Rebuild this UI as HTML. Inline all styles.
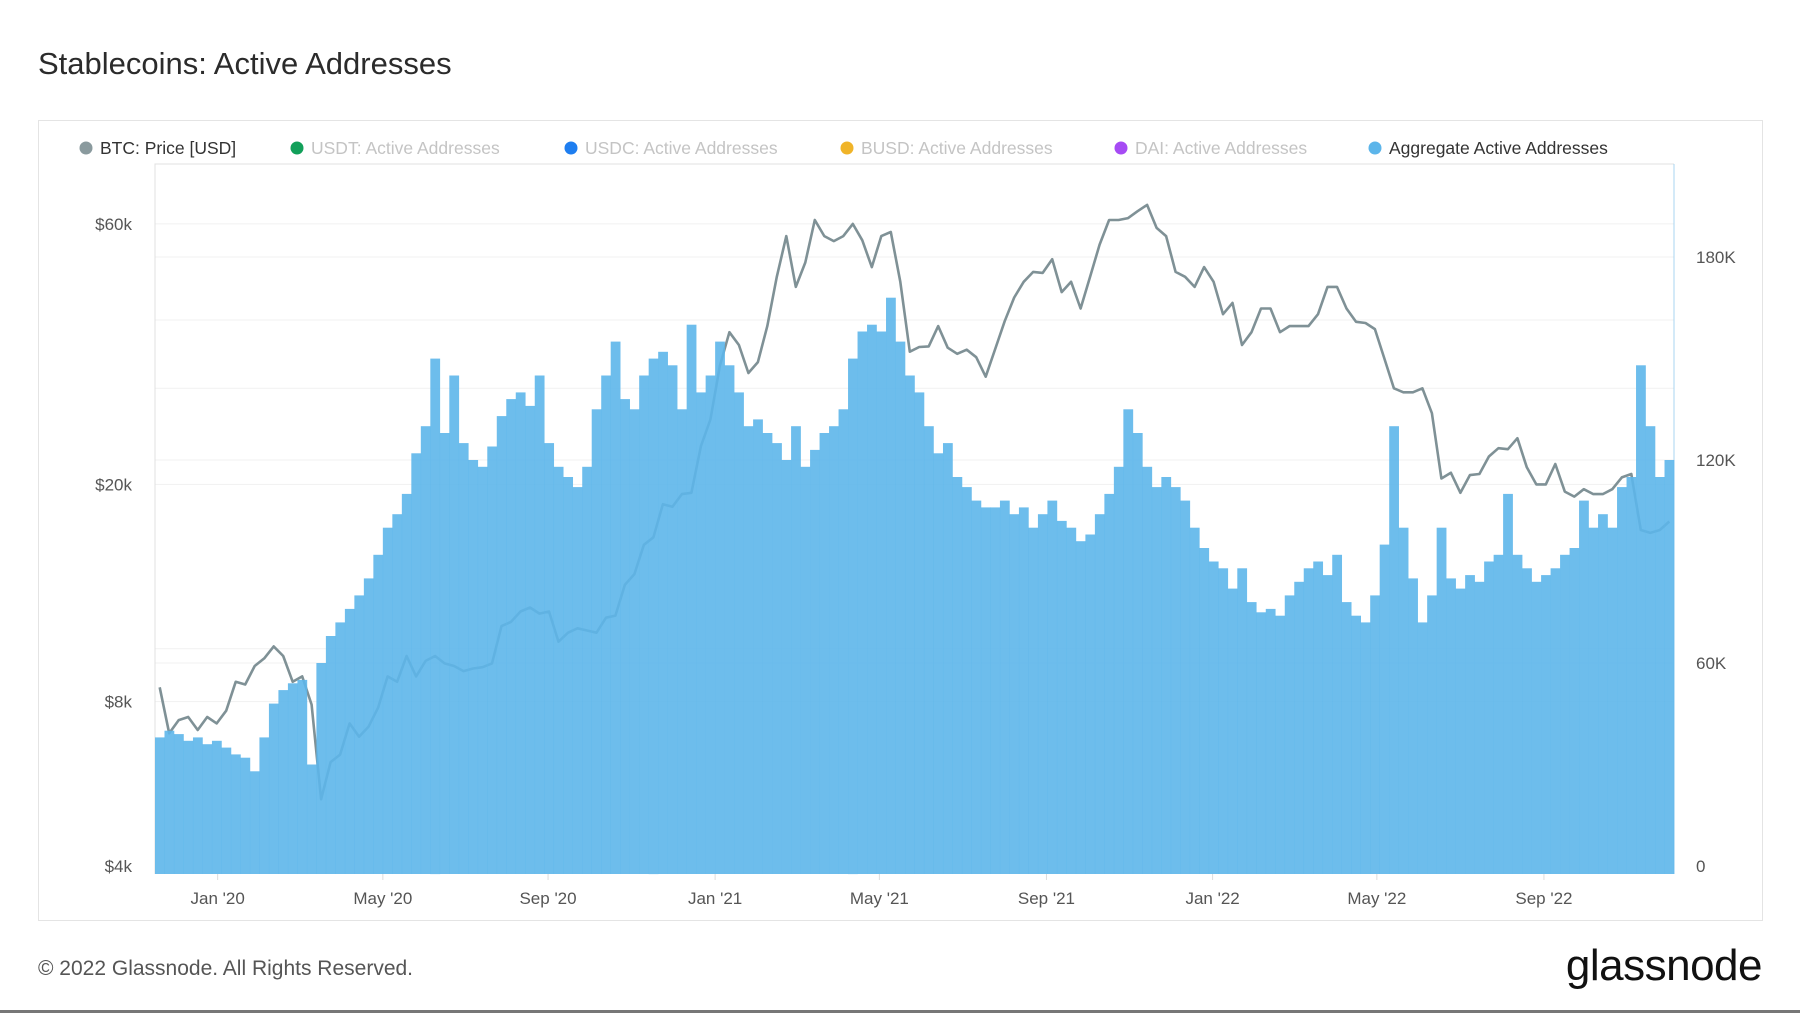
<!DOCTYPE html>
<html><head><meta charset="utf-8"><style>
body{margin:0;background:#fff;width:1800px;height:1013px;overflow:hidden;font-family:"Liberation Sans",sans-serif}
</style></head><body>
<svg id="chart" width="1800" height="1013" xmlns="http://www.w3.org/2000/svg">
<text x="38" y="74" font-size="31" fill="#2b2b2b">Stablecoins: Active Addresses</text>
<rect x="38.5" y="120.5" width="1724" height="800" fill="#fff" stroke="#e4e4e4"/>
<g id="legend" font-size="17.5"></g>
<g id="grid"></g>
<g id="line"></g>
<g id="bars"></g>
<g id="axes" font-size="17" fill="#555"></g>
<text x="38" y="975" font-size="21" fill="#555">© 2022 Glassnode. All Rights Reserved.</text>
<text x="1762" y="980" font-size="44" fill="#111" text-anchor="end" letter-spacing="-0.5">glassnode</text>
<rect x="0" y="1010" width="1800" height="3" fill="#777"/>
</svg>
<script>
const legendLabels=["BTC: Price [USD]","USDT: Active Addresses","USDC: Active Addresses","BUSD: Active Addresses","DAI: Active Addresses","Aggregate Active Addresses"];
const legendColors=["#8a9a9e","#12a05a","#1e7ef0","#f0b429","#a64bf4","#5cb5ea"];
const legendActive=[true,false,false,false,false,true];
const leftTicks=[4000,8000,20000,60000];
const leftTickLabels=["$4k","$8k","$20k","$60k"];
const rightTicks=[0,60,120,180];
const rightTickLabels=["0","60K","120K","180K"];
const xTickWeeks=[6.6,24,41.4,59,76.3,93.9,111.4,128.7,146.3];
const xTickLabels=["Jan '20","May '20","Sep '20","Jan '21","May '21","Sep '21","Jan '22","May '22","Sep '22"];
const activeAddrK=[38,40,39,37,38,36,37,35,33,32,28,38,48,52,54,55,30,60,68,72,76,80,85,92,100,104,110,122,130,150,128,145,125,120,118,124,133,138,140,136,145,125,118,115,112,118,135,145,155,138,135,145,150,152,148,135,160,140,145,155,148,140,130,132,128,125,120,130,118,123,128,130,135,150,158,160,158,168,155,145,140,130,122,125,115,112,108,106,106,108,104,106,100,104,108,102,100,96,98,104,110,118,135,128,118,112,115,112,108,100,94,90,88,82,88,78,75,76,74,80,84,88,90,86,92,78,74,72,80,95,130,100,85,72,80,100,85,82,86,84,90,92,110,92,88,84,86,88,92,94,108,100,104,100,112,115,148,130,115,120];
const btcPrice=[8500,7000,7400,7500,7100,7500,7300,7700,8700,8600,9300,9600,10100,9700,8700,8900,7900,5300,6200,6400,7300,6900,7200,7800,8900,8700,9700,8900,9500,9700,9400,9300,9100,9200,9250,9400,11000,11200,11700,11900,11600,11700,10300,10700,10900,10800,10700,11400,11500,13100,13700,15500,16000,18400,18200,19200,19300,23500,26300,33000,38000,36000,32000,33500,39000,48000,57000,46000,51000,61000,57000,55800,57000,60000,56000,50000,57000,58000,47000,35000,35700,35800,39000,35600,34700,35300,34200,31500,35400,39800,44000,47000,49000,48800,51700,45000,47000,42000,48000,55000,61000,61000,61500,63300,65000,59000,57000,49000,48000,46000,50000,47000,41000,43000,36000,38000,42000,42000,38000,39000,39000,39000,41000,46000,46000,42000,39700,39500,38500,34000,30000,29500,29500,30000,27000,20500,21000,19300,20800,20900,22500,23300,23200,24300,21500,20000,20000,21800,19400,19000,19600,19200,19200,19600,20600,20900,16500,16300,16500,17100];

const NS="http://www.w3.org/2000/svg";
const PL=155,PR=1674,PT=164,PB=874;
const nWeeks=activeAddrK.length;
const weekW=(PR-PL)/nWeeks;
function xW(i){return PL+(i+0.5)*weekW;}
function yL(p){return 866-Math.log(p/4000)*237.1;}
function yR(k){return 866-k*3.383;}
function mk(tag,attrs,parent){const e=document.createElementNS(NS,tag);for(const k in attrs)e.setAttribute(k,attrs[k]);parent.appendChild(e);return e;}

const legend=document.getElementById('legend');
const legX=[86,297,571,847,1121,1375];
legendLabels.forEach((l,i)=>{
  const c=mk('circle',{cx:legX[i],cy:148,r:6.5,fill:legendColors[i]},legend);
  
  
  const t=mk('text',{x:legX[i]+14,y:154,fill:legendActive[i]?'#333':'#c4c4c4'},legend);
  t.textContent=l;
  
  
});

const grid=document.getElementById('grid');
[40000,30000,10000,60000,20000,8000].forEach(v=>{
  const g=mk('line',{x1:PL,x2:PR,y1:yL(v),y2:yL(v),stroke:'#f1f1f1','stroke-width':1},grid);
  
  
});
[60,120,180].forEach(v=>{
  const g=mk('line',{x1:PL,x2:PR,y1:yR(v),y2:yR(v),stroke:'#f1f1f1','stroke-width':1},grid);
  
  
});
const frame=mk('path',{d:`M${PL},${PB}V${PT}H${PR}`,fill:'none',stroke:'#e0e0e0'},grid);


const raxis=mk('line',{x1:PR,x2:PR,y1:PT,y2:PB,stroke:'#a8d4f0'},grid);



const line=document.getElementById('line');
let d='';
btcPrice.forEach((p,i)=>{d+=(i?'L':'M')+xW(i).toFixed(1)+','+yL(p).toFixed(1);});
const lp=mk('path',{d:d,fill:'none',stroke:'#7f9196','stroke-width':2.6,'stroke-linejoin':'round'},line);



const bars=document.getElementById('bars');
activeAddrK.forEach((v,i)=>{
  const y=yR(v);
  const r=mk('rect',{x:(PL+i*weekW).toFixed(2),y:y.toFixed(1),width:(weekW+0.3).toFixed(2),height:(PB-y).toFixed(1),fill:'#5db6ea','fill-opacity':0.9},bars);
  
  
});

const axes=document.getElementById('axes');
leftTicks.forEach((v,i)=>{
  const t=mk('text',{x:132,y:yL(v)+6,'text-anchor':'end'},axes);
  t.textContent=leftTickLabels[i];
  
  
});
rightTicks.forEach((v,i)=>{
  const t=mk('text',{x:1696,y:yR(v)+6},axes);
  t.textContent=rightTickLabels[i];
  
  
});
xTickWeeks.forEach((w,i)=>{
  const x=PL+w*weekW;
  const tk=mk('line',{x1:x,x2:x,y1:PB,y2:PB+6,stroke:'#ddd'},axes);
  
  
  const t=mk('text',{x:x,y:904,'text-anchor':'middle'},axes);
  t.textContent=xTickLabels[i];
  
  
});
</script>
</body></html>
